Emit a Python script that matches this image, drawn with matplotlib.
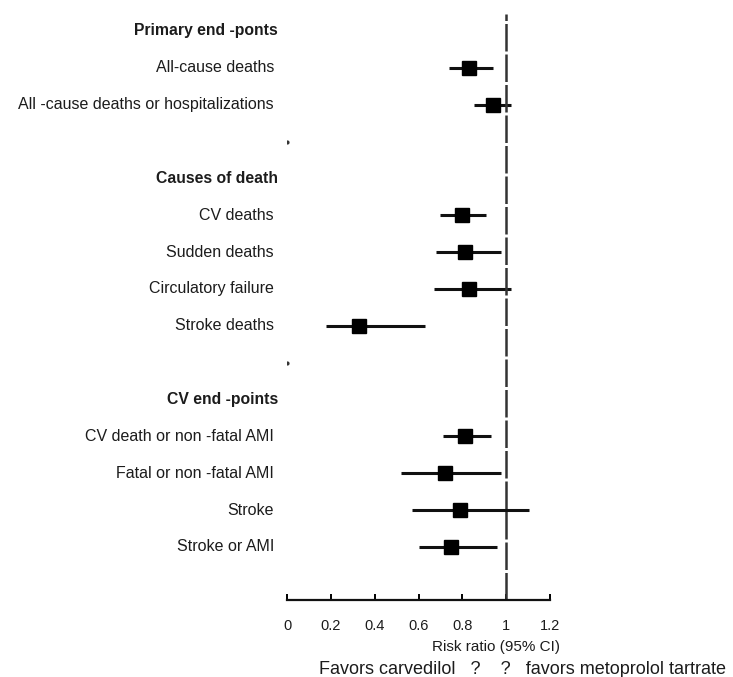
import numpy as np
import matplotlib
matplotlib.use("Agg")
import matplotlib.pyplot as plt

plt.rcParams['font.family'] = ['Liberation Sans', 'DejaVu Sans']

# rows from top to bottom; "" = blank spacer row
labels = ["Primary end -ponts", "All-cause deaths", "All -cause deaths or hospitalizations", "",
          "Causes of death", "CV deaths", "Sudden deaths", "Circulatory failure", "Stroke deaths", "",
          "CV end -points", "CV death or non -fatal AMI", "Fatal or non -fatal AMI", "Stroke", "Stroke or AMI"]
is_header = [True, False, False, False,
             True, False, False, False, False, False,
             True, False, False, False, False]
rr = [None, 0.83, 0.94, None,
      None, 0.80, 0.81, 0.83, 0.33, None,
      None, 0.81, 0.72, 0.79, 0.75]
lo = [None, 0.74, 0.855, None,
      None, 0.70, 0.68, 0.67, 0.18, None,
      None, 0.71, 0.52, 0.57, 0.60]
hi = [None, 0.94, 1.02, None,
      None, 0.91, 0.975, 1.02, 0.63, None,
      None, 0.93, 0.975, 1.105, 0.96]
spacer_rows = [3, 9]

xticks = [0, 0.2, 0.4, 0.6, 0.8, 1, 1.2]
xtick_labels = ["0", "0.2", "0.4", "0.6", "0.8", "1", "1.2"]

W, H = 733, 677
fig = plt.figure(figsize=(W / 100, H / 100), dpi=100)
# axes in pixel terms: x 287..550, y 14..600
ax = fig.add_axes([287 / W, (H - 600) / H, 263 / W, (600 - 14) / H])

txt = '#1c1c1c'
for i, lab in enumerate(labels):
    if not lab:
        continue
    if is_header[i]:
        ax.text(-9 / 219, i, lab, ha='right', va='center', fontsize=11.3,
                fontweight='bold', color=txt)
    else:
        ax.text(-13 / 219, i, lab, ha='right', va='center', fontsize=11.5, color=txt)

for i in range(len(labels)):
    if rr[i] is not None:
        ax.plot([lo[i], hi[i]], [i, i], color='#111111', lw=2.2, solid_capstyle='butt')
        ax.plot(rr[i], i, marker='s', ms=9.5, color='black', mec='black')

for i in spacer_rows:
    ax.plot(0, i, marker='o', ms=2, color='#333333')

ax.axvline(1, color='#333333', lw=1.8, linestyle=(0, (11, 1.2)))

ax.set_xlim(0, 1.2)
ax.set_ylim(15.44, -0.46)
for s in ['top', 'right', 'left']:
    ax.spines[s].set_visible(False)
ax.spines['bottom'].set_linewidth(1.6)
ax.spines['bottom'].set_color('#111111')
ax.set_yticks([])
ax.set_xticks(xticks)
ax.set_xticklabels(xtick_labels)
ax.tick_params(axis='x', direction='in', length=4, width=1.4, pad=14,
               labelsize=10.5, labelcolor=txt)

fig.text(496 / W, 1 - 647 / H, "Risk ratio (95% CI)", ha='center', va='center',
         fontsize=11, color=txt)
fig.text(319 / W, 1 - 669 / H, "Favors carvedilol   ?    ?   favors metoprolol tartrate",
         ha='left', va='center', fontsize=13, color=txt)

fig.savefig("out.png", dpi=100)
